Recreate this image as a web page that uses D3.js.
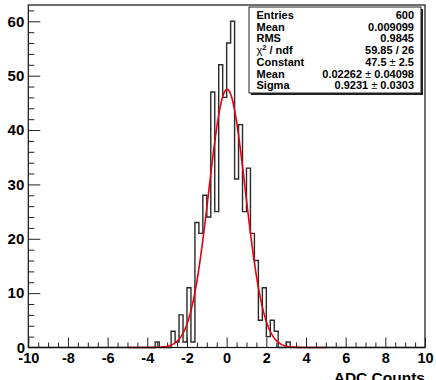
<!DOCTYPE html>
<html>
<head>
<meta charset="utf-8">
<script src="https://cdn.jsdelivr.net/npm/d3@7"></script>
<style>
    body { margin: 0; background: #fff; }
    svg text { font-family: "Liberation Sans", Arial, sans-serif; font-weight: bold; }
</style>
</head>
<body>
<div id="chart"></div>
<script>
// histogram of ADC counts with gaussian fit (ROOT style)

// bin lower edges (bin width 0.2), only the non-empty region
const binLows = [-3.6, -3.4, -3.2, -3.0, -2.8, -2.6, -2.4, -2.2, -2.0, -1.8, -1.6, -1.4, -1.2, -1.0, -0.8, -0.6, -0.4, -0.2,
    0.0, 0.2, 0.4, 0.6, 0.8, 1.0, 1.2, 1.4, 1.6, 1.8, 2.0, 2.2, 2.4, 2.6, 2.8, 3.0];
const counts = [1, 0, 0, 0, 3, 1, 6, 1, 11, 1, 23, 21, 28, 24, 47, 25, 52, 46,
    56, 60, 31, 41, 25, 33, 21, 16, 5, 11, 2, 5, 3, 0, 0, 1];
const binWidth = 0.2;

// fit parameters
const fitConstant = 47.5;
const fitMean = 0.02262;
const fitSigma = 0.9231;
const fitRange = [-5, 5];

// axis ticks
const xMajor = [-10, -8, -6, -4, -2, 0, 2, 4, 6, 8, 10];
const yMajor = [10, 20, 30, 40, 50, 60];

// stats box
const statLabels = ["Entries", "Mean", "RMS", "χ2 / ndf", "Constant", "Mean", "Sigma"];
const statValues = ["600", "0.009099", "0.9845", "59.85 / 26", "47.5 ± 2.5", "0.02262 ± 0.04098", "0.9231 ± 0.0303"];

const W = 436, H = 380;
const svg = d3.select("#chart").append("svg")
    .attr("width", W).attr("height", H);

const x = d3.scaleLinear().domain([-10, 10]).range([28.3, 425]);
const y = d3.scaleLinear().domain([0, 63]).range([347.5, 5]);

// minor ticks
const xMinor = d3.range(-10, 10.001, 0.5).filter(v => Math.abs(v / 2 - Math.round(v / 2)) > 1e-6);
const yMinor = d3.range(0, 63, 2).filter(v => v % 10 !== 0);

const g = svg.append("g");

// y axis
g.append("g")
    .attr("transform", `translate(${x(-10)},0)`)
    .call(d3.axisLeft(y).tickValues(yMajor).tickSize(-12).tickPadding(4).tickFormat(d3.format("d")))
    .call(a => a.select(".domain").remove())
    .call(a => a.selectAll("text").style("font-size", "15px").attr("fill", "#000"));
g.append("g")
    .attr("transform", `translate(${x(-10)},0)`)
    .call(d3.axisLeft(y).tickValues(yMinor).tickSize(-6).tickFormat(""))
    .call(a => a.select(".domain").remove());

// x axis
g.append("g")
    .attr("transform", `translate(0,${y(0)})`)
    .call(d3.axisBottom(x).tickValues(xMajor).tickSize(-10).tickPadding(5).tickFormat(d => d))
    .call(a => a.select(".domain").remove())
    .call(a => a.selectAll("text").style("font-size", "14.5px").attr("fill", "#000"));
g.append("g")
    .attr("transform", `translate(0,${y(0)})`)
    .call(d3.axisBottom(x).tickValues(xMinor).tickSize(-5).tickFormat(""))
    .call(a => a.select(".domain").remove());

g.selectAll(".tick line").attr("stroke", "#222").attr("stroke-width", 1);

// the "0" label of the y axis sits on the corner
svg.append("text")
    .attr("x", 25).attr("y", 353)
    .attr("text-anchor", "end")
    .style("font-size", "15px")
    .text("0");

// histogram outline (step)
let pts = [[-10, 0], [binLows[0], 0]];
binLows.forEach((b, i) => {
    pts.push([b, counts[i]]);
    pts.push([b + binWidth, counts[i]]);
});
pts.push([binLows[binLows.length - 1] + binWidth, 0]);
pts.push([10, 0]);

svg.append("path")
    .attr("d", d3.line().x(d => x(d[0])).y(d => y(d[1]))(pts))
    .attr("fill", "none")
    .attr("stroke", "#2a2a2a")
    .attr("stroke-width", 1.4);

// gaussian fit
const gaus = v => fitConstant * Math.exp(-0.5 * Math.pow((v - fitMean) / fitSigma, 2));
const fitPts = d3.range(fitRange[0], fitRange[1] + 0.001, 0.05).map(v => [v, gaus(v)]);
svg.append("path")
    .attr("d", d3.line().x(d => x(d[0])).y(d => y(d[1]))(fitPts))
    .attr("fill", "none")
    .attr("stroke", "#e8000b")
    .attr("stroke-width", 1.6);

// frame
svg.append("rect")
    .attr("x", x(-10)).attr("y", y(63))
    .attr("width", x(10) - x(-10)).attr("height", y(0) - y(63))
    .attr("fill", "none")
    .attr("stroke", "#111")
    .attr("stroke-width", 1.2);

// axis title
svg.append("text")
    .attr("x", x(10)).attr("y", 383)
    .attr("text-anchor", "end")
    .style("font-size", "15.5px")
    .text("ADC Counts");

// stats box with shadow
const box = {x: 249, y: 7, w: 172, h: 86};
svg.append("rect")
    .attr("x", box.x + 2).attr("y", box.y + 2)
    .attr("width", box.w).attr("height", box.h)
    .attr("fill", "#222");
svg.append("rect")
    .attr("x", box.x).attr("y", box.y)
    .attr("width", box.w).attr("height", box.h)
    .attr("fill", "#fff")
    .attr("stroke", "#222")
    .attr("stroke-width", 1);

const rowY = i => box.y + 12 + i * 11.7;

statLabels.forEach((s, i) => {
    const t = svg.append("text")
        .attr("x", 256.5).attr("y", rowY(i))
        .style("font-size", "11px");
    if (s.startsWith("χ2")) {
        t.append("tspan").text("χ").style("font-weight", "normal");
        t.append("tspan").text("2").attr("dy", -4).style("font-size", "7.5px");
        t.append("tspan").text(" / ndf").attr("dy", 4);
    } else {
        t.text(s);
    }
});

statValues.forEach((s, i) => {
    const t = svg.append("text")
        .attr("x", 414).attr("y", rowY(i))
        .attr("text-anchor", "end")
        .style("font-size", "11px");
    const parts = s.split("±");
    if (parts.length === 2) {
        t.append("tspan").text(parts[0]);
        t.append("tspan").text("±").style("font-weight", "normal");
        t.append("tspan").text(parts[1]);
    } else {
        t.text(s);
    }
});
</script>
</body>
</html>
